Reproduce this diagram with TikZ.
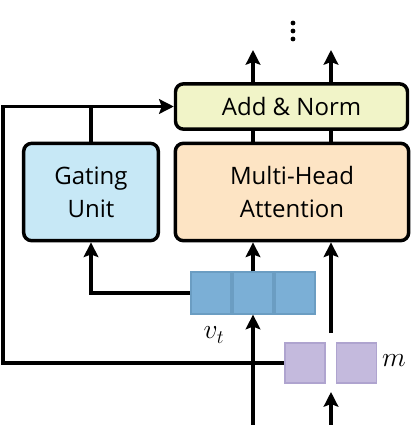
\documentclass[tikz,border=0pt]{standalone}
\usepackage{fontspec}
\setmainfont{Open Sans}
\usetikzlibrary{arrows.meta,positioning}

\definecolor{normfill}{HTML}{F1F4C8}
\definecolor{gatefill}{HTML}{C7E8F6}
\definecolor{attnfill}{HTML}{FDE4C4}
\definecolor{vecfill}{HTML}{7BAFD6}
\definecolor{vecline}{HTML}{6B9DC2}
\definecolor{memfill}{HTML}{C4BADD}
\definecolor{memline}{HTML}{AFA4CF}

\tikzset{
  block/.style={draw,line width=2.6pt,rounded corners=6pt,align=center,
    inner sep=0pt,font=\fontsize{18}{25}\selectfont},
  link/.style={line width=2.6pt},
  arr/.style={link,-{Stealth[length=11pt,width=11pt,inset=2pt]}},
  veccell/.style={draw=vecline,fill=vecfill,line width=1.4pt,
    minimum width=30pt,minimum height=31pt,inner sep=0pt},
  memcell/.style={draw=memline,fill=memfill,line width=1.4pt,
    minimum width=30pt,minimum height=30pt,inner sep=0pt},
  dot/.style={circle,fill,inner sep=0pt,minimum size=3.6pt},
}

\begin{document}
\begin{tikzpicture}[x=0.75pt,y=-0.75pt]

  \useasboundingbox (0,0) rectangle (414,425);

  % blocks
  \node[block,fill=normfill,minimum width=174pt,minimum height=34pt] (norm) at (291.5,106.5) {Add \& Norm};
  \node[block,fill=gatefill,minimum width=101pt,minimum height=73pt] (gate) at (91,192) {Gating\\Unit};
  \node[block,fill=attnfill,minimum width=175pt,minimum height=73pt] (attn) at (292,192) {Multi-Head\\Attention};

  % vector v_t
  \node[veccell] (v2) at (253,293) {};
  \node[veccell,left=0pt of v2] (v1) {};
  \node[veccell,right=0pt of v2] (v3) {};
  \node (vlabel) at (214,335) {\fontsize{22}{24}\selectfont$v_t$};

  % memory m
  \node[memcell] (m1) at (305,363) {};
  \node[memcell] (m2) at (356.5,363) {};
  \node (mlabel) at (394,361) {\fontsize{22}{24}\selectfont$m$};

  % more layers above
  \foreach \y [count=\i] in {23,31,39}
    \node[dot] (dot\i) at (293,\y) {};

  % coordinates
  \coordinate (out1) at (253,50);
  \coordinate (out2) at (331,50);
  \coordinate (in1) at (253,425);
  \coordinate (in2) at (331,425);
  \coordinate (in2top) at (331,392);
  \coordinate (kv) at (331,333);
  \coordinate (wall) at (3,0);

  % connectors
  \draw[arr] (norm.north -| out1) -- (out1);
  \draw[arr] (norm.north -| out2) -- (out2);
  \draw[link] (attn.north -| out1) -- (norm.south -| out1);
  \draw[link] (attn.north -| out2) -- (norm.south -| out2);
  \draw[arr] (in1) -- (v2.south);
  \draw[arr] (v2.north) -- (attn.south -| v2);
  \draw[arr] (in2) -- (in2top);
  \draw[arr] (kv) -- (attn.south -| kv);
  \draw[arr] (v1.west) -| (gate.south);
  \draw[link] (gate.north) -- (gate.north |- norm.west);
  \draw[arr] (m1.west) -| (wall |- norm.west) -- (norm.west);

\end{tikzpicture}
\end{document}
